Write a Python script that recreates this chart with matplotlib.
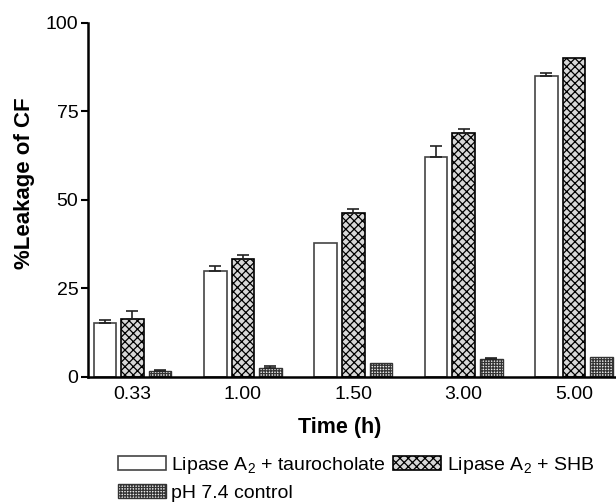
import matplotlib
matplotlib.use("Agg")
import matplotlib.pyplot as plt
import numpy as np

plt.rcParams['font.family'] = ['Liberation Sans', 'DejaVu Sans']
plt.rcParams['mathtext.default'] = 'regular'
plt.rcParams['hatch.linewidth'] = 0.9

times = ['0.33', '1.00', '1.50', '3.00', '5.00']
tauro = [15.1, 29.9, 37.9, 62.0, 85.0]
tauro_err = [0.9, 1.5, 0.0, 3.3, 0.9]
shb = [16.3, 33.2, 46.2, 68.8, 90.0]
shb_err = [2.4, 1.2, 1.2, 1.2, 0.0]
ctrl = [1.6, 2.4, 4.0, 4.9, 5.6]
ctrl_err = [0.3, 0.5, 0.0, 0.5, 0.0]

fig = plt.figure(figsize=(6.16, 5.04), dpi=100)
ax = fig.add_axes([88/616, 1-376.7/504, 1-88/616, (376.7-22.7)/504])

x = np.arange(len(times))
w = 0.204
off = 0.25

b1 = ax.bar(x - off, tauro, w, color='white', edgecolor='#444444', linewidth=1.2,
            label='Lipase A$_2$ + taurocholate')
b2 = ax.bar(x, shb, w, color='#d8d8d8', edgecolor='black', hatch='xxxx', linewidth=1.2,
            label='Lipase A$_2$ + SHB')
b3 = ax.bar(x + off, ctrl, w, color='#ececec', edgecolor='#333333', hatch='++++++', linewidth=1.0,
            label='pH 7.4 control')

for xs, vals, errs in [(x - off, tauro, tauro_err), (x, shb, shb_err), (x + off, ctrl, ctrl_err)]:
    for xi, v, e in zip(xs, vals, errs):
        if e > 0:
            ax.errorbar(xi, v, yerr=[[0], [e]], fmt='none', ecolor='#222222',
                        elinewidth=1.2, capsize=4, capthick=1.2)

ax.set_xlim(-0.403, 4.38)
ax.set_ylim(0, 100)
ax.set_yticks([0, 25, 50, 75, 100])
ax.set_xticks(x)
ax.set_xticklabels(times)
ax.tick_params(axis='x', length=0, pad=7, labelsize=14)
ax.tick_params(axis='y', length=5, width=1.5, pad=2, labelsize=14)
for s in ['top', 'right']:
    ax.spines[s].set_visible(False)
for s in ['left', 'bottom']:
    ax.spines[s].set_linewidth(1.8)

fig.text(340/616, 1-427/504, 'Time (h)', ha='center', va='center', fontsize=15.5, fontweight='bold')
fig.text(25/616, 1-183/504, '%Leakage of CF', ha='center', va='center', rotation=90,
         fontsize=16, fontweight='bold')

fig.legend([b1, b3, b2], [b1.get_label(), b3.get_label(), b2.get_label()],
           ncol=2, loc='upper left', bbox_to_anchor=(118/616, 1-455/504),
           frameon=False, borderpad=0, borderaxespad=0, fontsize=14,
           handlelength=2.45, handleheight=0.75, handletextpad=0.3,
           columnspacing=0.35, labelspacing=0.4)

fig.savefig('out.png', dpi=100)
